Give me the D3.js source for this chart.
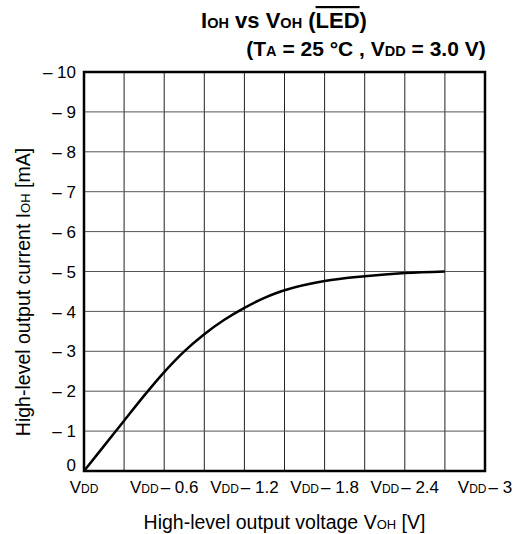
<!DOCTYPE html>
<html><head><meta charset="utf-8">
<script src="https://cdn.jsdelivr.net/npm/d3@7"></script>
<style>
body{margin:0;background:#fff;}
text{font-family:Arial,"Liberation Sans",sans-serif;fill:#000;}
</style></head>
<body><svg id="c" width="518" height="534"></svg>
<script>
// Data: voltage drop from VDD [V] and output current magnitude [mA] (plotted as negative)
const voltageDrop = [0, 0.15, 0.3, 0.45, 0.6, 0.75, 0.9, 1.05, 1.2, 1.35, 1.5, 1.8, 2.1, 2.4, 2.7];
const currentMag  = [0, 0.63, 1.26, 1.89, 2.48, 3.0, 3.43, 3.79, 4.09, 4.34, 4.53, 4.76, 4.88, 4.96, 5.0];
const yTickValues = [0,1,2,3,4,5,6,7,8,9,10];
const yTickLabels = ["0","– 1","– 2","– 3","– 4","– 5","– 6","– 7","– 8","– 9","– 10"];
const xTickValues = [0, 0.6, 1.2, 1.8, 2.4, 3];
const xTickSuffix = ["", "– 0.6", "– 1.2", "– 1.8", "– 2.4", "– 3"];
const xGridValues = [0,0.3,0.6,0.9,1.2,1.5,1.8,2.1,2.4,2.7,3];

const svg = d3.select("#c");
const L=84, R=485, T=72, B=471;
const x = d3.scaleLinear().domain([0,3]).range([L,R]);
const y = d3.scaleLinear().domain([0,10]).range([B,T]);

// grid
svg.append("g").selectAll("line").data(xGridValues).join("line")
  .attr("x1",d=>x(d)).attr("x2",d=>x(d)).attr("y1",T).attr("y2",B)
  .attr("stroke","#222").attr("stroke-width",1);
svg.append("g").selectAll("line").data(yTickValues).join("line")
  .attr("y1",d=>y(d)).attr("y2",d=>y(d)).attr("x1",L).attr("x2",R)
  .attr("stroke","#555").attr("stroke-width",1);

// curve
const line = d3.line().x((d,i)=>x(voltageDrop[i])).y(d=>y(d)).curve(d3.curveCatmullRom.alpha(0.5));
svg.append("path").datum(currentMag).attr("d",line)
  .attr("fill","none").attr("stroke","#000").attr("stroke-width",2.5);

// frame
svg.append("rect").attr("x",L).attr("y",T).attr("width",R-L).attr("height",B-T)
  .attr("fill","none").attr("stroke","#000").attr("stroke-width",2.5);

// y tick labels
svg.append("g").selectAll("text").data(yTickValues).join("text")
  .attr("x",L-8).attr("y",d=>y(d)).attr("dy",d=>d===0?"0.02em":"0.36em")
  .attr("text-anchor","end").attr("font-size",17)
  .text((d,i)=>yTickLabels[i]);

// x tick labels
const xl = svg.append("g").selectAll("text").data(xTickValues).join("text")
  .attr("x",d=>x(d)).attr("y",493).attr("text-anchor","middle").attr("font-size",17);
xl.append("tspan").text("V");
xl.append("tspan").attr("font-size",12).text("DD");
xl.append("tspan").attr("dx",(d,i)=>xTickSuffix[i]?2:0).text((d,i)=>xTickSuffix[i] ? xTickSuffix[i] : "");

// x axis title
const xt = svg.append("text").attr("x",(L+R)/2).attr("y",529).attr("text-anchor","middle").attr("font-size",19.5);
xt.append("tspan").text("High-level output voltage V");
xt.append("tspan").attr("font-size",13).text("OH");
xt.append("tspan").text(" [V]");

// y axis title
const yt = svg.append("text").attr("transform",`translate(30,292) rotate(-90)`)
  .attr("text-anchor","middle").attr("font-size",19.5);
yt.append("tspan").text("High-level output current I");
yt.append("tspan").attr("font-size",13).text("OH");
yt.append("tspan").text(" [mA]");

// title
const t1 = svg.append("text").attr("x",284).attr("y",28).attr("text-anchor","middle")
  .attr("font-size",22).attr("font-weight","bold");
t1.append("tspan").text("I");
t1.append("tspan").attr("font-size",14.5).text("OH");
t1.append("tspan").text(" vs V");
t1.append("tspan").attr("font-size",14.5).text("OH");
t1.append("tspan").text(" (");
t1.append("tspan").style("text-decoration","overline").text("LED");
t1.append("tspan").text(")");

const t2 = svg.append("text").attr("x",366).attr("y",56).attr("text-anchor","middle")
  .attr("font-size",21).attr("font-weight","bold");
t2.append("tspan").text("(T");
t2.append("tspan").attr("font-size",14.5).text("A");
t2.append("tspan").text(" = 25 °C , V");
t2.append("tspan").attr("font-size",14.5).text("DD");
t2.append("tspan").text(" = 3.0 V)");
</script></body></html>
